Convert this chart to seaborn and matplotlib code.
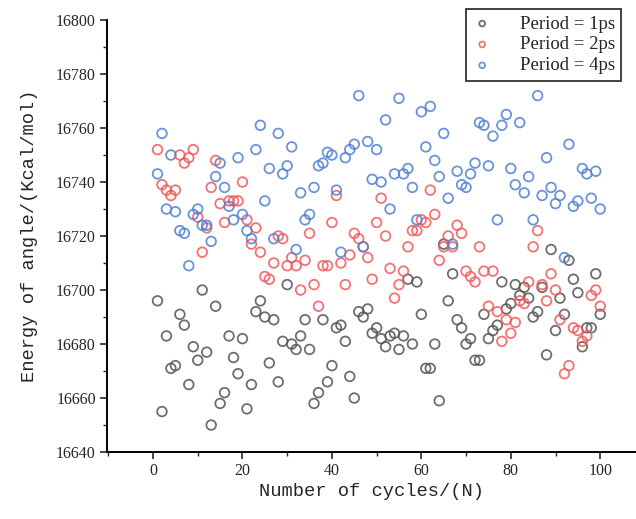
import numpy as np
import pandas as pd
import matplotlib
matplotlib.use("Agg")
import matplotlib.pyplot as plt
from matplotlib.ticker import MultipleLocator
import seaborn as sns

# cycle numbers 1..100
cycles = list(range(1, 101))

# Period = 1ps (gray)
energy_1ps = [16696, 16655, 16683, 16671, 16672, 16691, 16687, 16665, 16679, 16674,
              16700, 16677, 16650, 16694, 16658, 16662, 16683, 16675, 16669, 16682,
              16656, 16665, 16692, 16696, 16690, 16673, 16689, 16666, 16681, 16702,
              16680, 16678, 16683, 16689, 16678, 16658, 16662, 16689, 16666, 16672,
              16686, 16687, 16681, 16668, 16660, 16692, 16690, 16693, 16684, 16686,
              16682, 16679, 16683, 16684, 16678, 16683, 16704, 16680, 16703, 16691,
              16671, 16671, 16680, 16659, 16717, 16696, 16706, 16689, 16686, 16680,
              16682, 16674, 16674, 16691, 16682, 16685, 16687, 16703, 16693, 16695,
              16702, 16698, 16701, 16697, 16690, 16692, 16701, 16676, 16715, 16685,
              16697, 16691, 16711, 16704, 16699, 16679, 16686, 16686, 16706, 16691]

# Period = 2ps (red)
energy_2ps = [16752, 16739, 16737, 16735, 16737, 16750, 16747, 16749, 16752, 16727,
              16714, 16723, 16738, 16748, 16732, 16725, 16733, 16733, 16733, 16740,
              16726, 16717, 16723, 16714, 16705, 16704, 16710, 16720, 16719, 16709,
              16712, 16709, 16700, 16711, 16721, 16702, 16694, 16709, 16709, 16725,
              16735, 16710, 16702, 16713, 16721, 16719, 16716, 16712, 16704, 16725,
              16734, 16720, 16708, 16697, 16702, 16707, 16716, 16722, 16722, 16726,
              16725, 16737, 16728, 16711, 16716, 16720, 16716, 16724, 16721, 16707,
              16705, 16703, 16716, 16707, 16694, 16707, 16692, 16681, 16689, 16684,
              16688, 16696, 16695, 16703, 16716, 16722, 16702, 16696, 16706, 16700,
              16689, 16669, 16672, 16686, 16685, 16681, 16683, 16698, 16700, 16694]

# Period = 4ps (blue)
energy_4ps = [16743, 16758, 16730, 16750, 16729, 16722, 16721, 16709, 16728, 16730,
              16724, 16724, 16718, 16742, 16747, 16738, 16731, 16726, 16749, 16728,
              16722, 16719, 16752, 16761, 16733, 16745, 16719, 16758, 16743, 16746,
              16753, 16715, 16736, 16726, 16728, 16738, 16746, 16747, 16751, 16750,
              16737, 16714, 16749, 16752, 16754, 16772, 16716, 16755, 16741, 16752,
              16740, 16763, 16730, 16743, 16771, 16743, 16745, 16738, 16726, 16766,
              16753, 16768, 16748, 16742, 16758, 16734, 16717, 16744, 16739, 16738,
              16743, 16747, 16762, 16761, 16746, 16757, 16726, 16761, 16765, 16745,
              16739, 16762, 16736, 16742, 16726, 16772, 16735, 16749, 16738, 16732,
              16735, 16712, 16754, 16731, 16733, 16745, 16743, 16734, 16744, 16730]

labels = ["Period = 1ps", "Period = 2ps", "Period = 4ps"]
colors = ["#555555", "#f25a5a", "#4f81d3"]

sns.set_style("ticks")
plt.rcParams["font.family"] = ["Liberation Serif", "DejaVu Serif"]

fig = plt.figure(figsize=(6.36, 5.19), dpi=100)
ax = fig.add_axes([0.1682, 0.129, 1 - 0.1682, 0.9615 - 0.129])

for vals, lab, col in zip([energy_1ps, energy_2ps, energy_4ps], labels, colors):
    df = pd.DataFrame({"cycle": cycles, "energy": vals})
    sns.scatterplot(data=df, x="cycle", y="energy", ax=ax, s=48, marker="o",
                    facecolor="none", edgecolor=col, linewidth=1.3, alpha=0.85,
                    label=lab)

ax.set_xlim(-10.3, 108)
ax.set_ylim(16640, 16800)
ax.xaxis.set_major_locator(MultipleLocator(20))
ax.xaxis.set_minor_locator(MultipleLocator(10))
ax.yaxis.set_major_locator(MultipleLocator(20))
ax.yaxis.set_minor_locator(MultipleLocator(10))
ax.tick_params(which="major", direction="out", length=5, width=1.2, labelsize=11.5, pad=3)
ax.tick_params(which="minor", direction="out", length=3, width=1.0)

for side in ["top", "right"]:
    ax.spines[side].set_visible(False)
for side in ["left", "bottom"]:
    ax.spines[side].set_linewidth(1.4)
    ax.spines[side].set_color("black")

ax.set_xlabel("Number of cycles/(N)", fontsize=13.5, family="Liberation Mono", labelpad=3)
ax.set_ylabel("Energy of angle/(Kcal/mol)", fontsize=13.5, family="Liberation Mono", labelpad=13)

leg = ax.legend(loc="upper right", bbox_to_anchor=(0.977, 0.983), bbox_transform=fig.transFigure,
                borderaxespad=0, frameon=True, fancybox=False, edgecolor="black", fontsize=13.5,
                markerscale=0.6, handletextpad=1.5, borderpad=0.35, labelspacing=0.2,
                handlelength=1.0)
leg.get_frame().set_linewidth(1.3)

fig.savefig("out.png", dpi=100)
